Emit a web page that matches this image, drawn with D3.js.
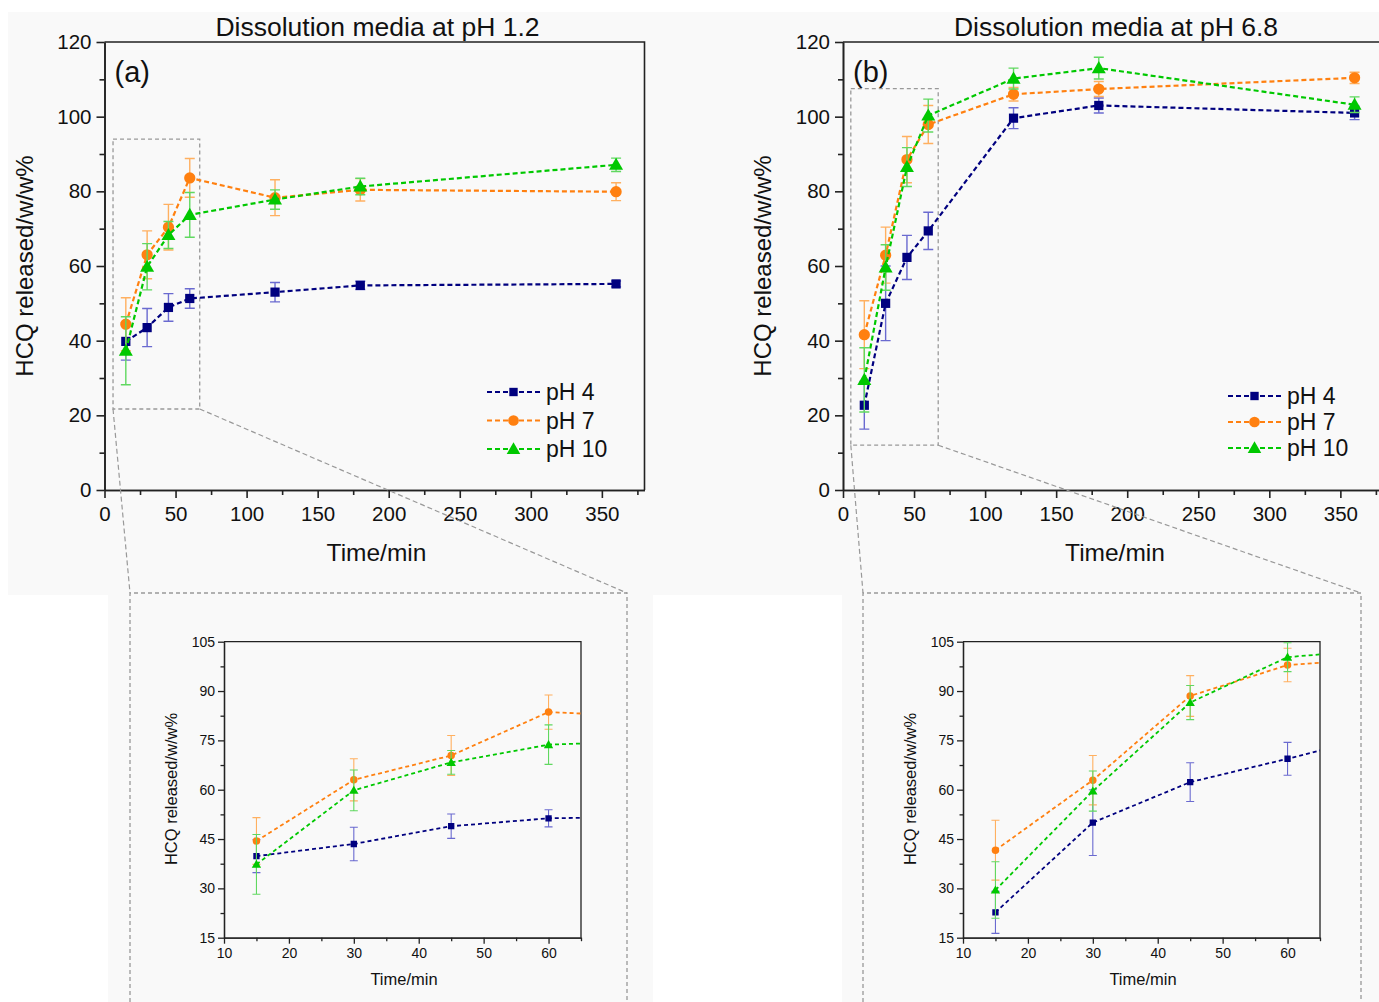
<!DOCTYPE html>
<html lang="en">
<head>
<meta charset="UTF-8">
<title>HCQ release</title>
<script src="https://d3js.org/d3.v7.min.js"></script>
<style>
  body { margin: 0; background: #fff; }
  svg { display: block; }
  text { font-family: "Liberation Sans", Arial, sans-serif; fill: #111; }
</style>
</head>
<body>
<svg id="chart" width="1379" height="1002"></svg>
<script>
// sampling times (min)
const times = [15, 30, 45, 60, 120, 180, 360];
const seriesNames = ["pH 4", "pH 7", "pH 10"];

// dissolution media pH 1.2
const a_pH4 = [39.8, 43.5, 48.9, 51.3, 53.0, 54.8, 55.2];
const a_pH4_err = [5.0, 5.1, 3.7, 2.6, 2.6, 1.1, 0.8];
const a_pH7 = [44.4, 63.0, 70.4, 83.6, 78.3, 80.4, 79.9];
const a_pH7_err = [7.1, 6.4, 6.1, 5.2, 4.8, 3.0, 2.4];
const a_pH10 = [37.3, 59.8, 68.3, 73.7, 77.8, 81.3, 87.1];
const a_pH10_err = [9.1, 6.2, 3.6, 6.0, 2.6, 2.2, 1.8];

// dissolution media pH 6.8
const b_pH4 = [22.7, 50.0, 62.3, 69.4, 99.6, 103.0, 101.0];
const b_pH4_err = [6.4, 10.0, 5.9, 5.0, 2.8, 2.0, 1.8];
const b_pH7 = [41.6, 62.9, 88.5, 97.9, 106.0, 107.4, 110.4];
const b_pH7_err = [9.1, 7.5, 6.2, 5.1, 1.8, 2.0, 1.5];
const b_pH10 = [29.5, 59.6, 86.5, 100.3, 110.2, 113.0, 103.2];
const b_pH10_err = [8.6, 6.1, 5.2, 4.4, 2.8, 2.9, 2.1];

// axis ticks
const mainXTicks = [0, 50, 100, 150, 200, 250, 300, 350];
const mainXMinor = [25, 75, 125, 175, 225, 275, 325, 375];
const mainYTicks = [0, 20, 40, 60, 80, 100, 120];
const mainYMinor = [10, 30, 50, 70, 90, 110];
const insetXTicks = [10, 20, 30, 40, 50, 60];
const insetXMinor = [15, 25, 35, 45, 55, 65];
const insetYTicks = [15, 30, 45, 60, 75, 90, 105];
const insetYMinor = [22.5, 37.5, 52.5, 67.5, 82.5, 97.5];

const colors = ["#00007f", "#ff8010", "#00c800"];
const errColors = ["#6a6ad0", "#ffb060", "#60d860"];
const symbols = [d3.symbolSquare, d3.symbolCircle, d3.symbolTriangle];

const svg = d3.select("#chart");
const defs = svg.append("defs");

// light grey page backgrounds
svg.append("rect").attr("x", 8).attr("y", 12).attr("width", 1371).attr("height", 583).attr("fill", "#f9f9f9");
svg.append("rect").attr("x", 108).attr("y", 595).attr("width", 545).attr("height", 407).attr("fill", "#f9f9f9");
svg.append("rect").attr("x", 842).attr("y", 595).attr("width", 537).attr("height", 407).attr("fill", "#f9f9f9");

function build(values, errs) {
  return times.map((t, i) => ({ t: t, v: values[i], e: errs[i] }));
}

const panelA = [build(a_pH4, a_pH4_err), build(a_pH7, a_pH7_err), build(a_pH10, a_pH10_err)];
const panelB = [build(b_pH4, b_pH4_err), build(b_pH7, b_pH7_err), build(b_pH10, b_pH10_err)];

function axes(g, x, y, o) {
  const [x0, x1] = x.range();
  const [y0, y1] = y.range();
  g.append("g").attr("transform", `translate(0,${y0})`)
    .call(d3.axisBottom(x).tickValues(o.xMinor).tickSize(o.minor).tickFormat("").tickSizeOuter(0));
  g.append("g").attr("transform", `translate(0,${y0})`)
    .call(d3.axisBottom(x).tickValues(o.xTicks).tickSize(o.major).tickPadding(o.xpad).tickSizeOuter(0))
    .selectAll("text").attr("font-size", o.font);
  g.append("g").attr("transform", `translate(${x0},0)`)
    .call(d3.axisLeft(y).tickValues(o.yMinor).tickSize(o.minor).tickFormat("").tickSizeOuter(0));
  g.append("g").attr("transform", `translate(${x0},0)`)
    .call(d3.axisLeft(y).tickValues(o.yTicks).tickSize(o.major).tickPadding(o.pad).tickSizeOuter(0))
    .selectAll("text").attr("font-size", o.font);
  g.selectAll(".domain").attr("stroke", "#222").attr("stroke-width", o.sw);
  g.selectAll(".tick line").attr("stroke", "#222").attr("stroke-width", o.sw);
  g.selectAll(".tick text").attr("fill", "#111").attr("font-family", "Liberation Sans, Arial, sans-serif");
  // top and right frame
  g.append("path")
    .attr("d", `M${x0},${y1}H${x1}V${y0}`)
    .attr("fill", "none").attr("stroke", "#222").attr("stroke-width", o.sw);
}

function series(g, x, y, data, o) {
  const line = d3.line().x(d => x(d.t)).y(d => y(d.v));
  data.forEach((s, k) => {
    const eg = g.append("g");
    s.forEach(d => {
      const cx = x(d.t), ya = y(d.v + d.e), yb = y(d.v - d.e);
      eg.append("path")
        .attr("d", `M${cx},${ya}V${yb}M${cx - o.cap},${ya}H${cx + o.cap}M${cx - o.cap},${yb}H${cx + o.cap}`)
        .attr("stroke", errColors[k]).attr("stroke-width", o.ew).attr("fill", "none");
    });
    g.append("path").datum(s).attr("d", line)
      .attr("fill", "none").attr("stroke", colors[k])
      .attr("stroke-width", o.lw).attr("stroke-dasharray", o.dash);
    g.selectAll(null).data(s).enter().append("path")
      .attr("transform", d => `translate(${x(d.t)},${y(d.v) + (k === 2 ? o.triShift : 0)})`)
      .attr("d", d3.symbol().type(symbols[k]).size(o.sizes[k]))
      .attr("fill", colors[k]);
  });
}

function mainPanel(p) {
  const x = d3.scaleLinear().domain([0, 380]).range([p.left, p.left + 540]);
  const y = d3.scaleLinear().domain([0, 120]).range([490, 42]);
  const g = svg.append("g");
  axes(g, x, y, { xTicks: mainXTicks, xMinor: mainXMinor, yTicks: mainYTicks, yMinor: mainYMinor,
    major: 8, minor: 5, pad: 5, xpad: 8, font: 20.5, sw: 1.6 });

  // zoom window
  g.append("rect")
    .attr("x", x(p.zoom[0])).attr("y", y(p.zoom[3]))
    .attr("width", x(p.zoom[1]) - x(p.zoom[0])).attr("height", y(p.zoom[2]) - y(p.zoom[3]))
    .attr("fill", "none").attr("stroke", "#999").attr("stroke-width", 1.3).attr("stroke-dasharray", "4,3");

  series(g, x, y, p.data, { cap: 5, ew: 1.4, lw: 2.2, dash: "5,3", sizes: [85, 100, 85], triShift: 1 });

  g.append("text").attr("x", (p.left + p.left + 540) / 2 + 3).attr("y", 36)
    .attr("text-anchor", "middle").attr("font-size", 26.5).text(p.title);
  g.append("text").attr("x", p.left + 10).attr("y", 82).attr("font-size", 29).text(p.tag);
  g.append("text").attr("transform", `translate(${p.left - 72},${266}) rotate(-90)`)
    .attr("text-anchor", "middle").attr("font-size", 24).text("HCQ released/w/w%");
  g.append("text").attr("x", p.left + 272).attr("y", 561)
    .attr("text-anchor", "middle").attr("font-size", 24.5).text("Time/min");

  // legend
  seriesNames.forEach((name, k) => {
    const ly = p.legY + k * p.legDy;
    g.append("line").attr("x1", p.legX).attr("x2", p.legX + 53).attr("y1", ly).attr("y2", ly)
      .attr("stroke", colors[k]).attr("stroke-width", 2.2).attr("stroke-dasharray", "5,3");
    g.append("path").attr("transform", `translate(${p.legX + 26.5},${ly + (k === 2 ? 1 : 0)})`)
      .attr("d", d3.symbol().type(symbols[k]).size([70, 90, 80][k])).attr("fill", colors[k]);
    g.append("text").attr("x", p.legX + 59).attr("y", ly + 8).attr("font-size", 23).text(name);
  });

  return { x, y };
}

function inset(p, m) {
  const x = d3.scaleLinear().domain([10, 65]).range([p.left, p.left + 357]);
  const y = d3.scaleLinear().domain([15, 105]).range([937.7, 641.7]);
  const g = svg.append("g");

  // dashed frame of the enlarged view and connectors
  const zx0 = m.x(p.zoom[0]), zx1 = m.x(p.zoom[1]), zy = m.y(p.zoom[2]);
  g.append("path")
    .attr("d", `M${p.box[0]},1002V${p.box[2]}H${p.box[1]}V1002`)
    .attr("fill", "none").attr("stroke", "#999").attr("stroke-width", 1.3).attr("stroke-dasharray", "4,3");
  g.append("path")
    .attr("d", `M${zx0},${zy}L${p.box[0]},${p.box[2]}M${zx1},${zy}L${p.box[1]},${p.box[2]}`)
    .attr("fill", "none").attr("stroke", "#999").attr("stroke-width", 1.2).attr("stroke-dasharray", "5,3");

  axes(g, x, y, { xTicks: insetXTicks, xMinor: insetXMinor, yTicks: insetYTicks, yMinor: insetYMinor,
    major: 6, minor: 3.5, pad: 3, xpad: 4, font: 14, sw: 1.3 });

  const id = "clip" + p.tag;
  defs.append("clipPath").attr("id", id).append("rect")
    .attr("x", x(10)).attr("y", y(105)).attr("width", x(65) - x(10)).attr("height", y(15) - y(105));
  const pg = g.append("g").attr("clip-path", `url(#${id})`);
  series(pg, x, y, p.data, { cap: 4, ew: 1.1, lw: 1.8, dash: "4,3", sizes: [40, 44, 38], triShift: 0.8 });

  g.append("text").attr("transform", `translate(${p.left - 47},${789}) rotate(-90)`)
    .attr("text-anchor", "middle").attr("font-size", 16.5).text("HCQ released/w/w%");
  g.append("text").attr("x", p.left + 180).attr("y", 985)
    .attr("text-anchor", "middle").attr("font-size", 16.5).text("Time/min");
}

const mA = mainPanel({ left: 104.5, title: "Dissolution media at pH 1.2", tag: "(a)", data: panelA,
  zoom: [6, 67, 21.7, 94], legX: 487, legY: 392, legDy: 28.5 });
const mB = mainPanel({ left: 843, title: "Dissolution media at pH 6.8", tag: "(b)", data: panelB,
  zoom: [5.5, 67, 12, 107.5], legX: 1228, legY: 396, legDy: 26 });

inset({ left: 224, tag: "a", data: panelA, zoom: [6, 67, 21.7], box: [130, 627, 593] }, mA);
inset({ left: 963, tag: "b", data: panelB, zoom: [5.5, 67, 12], box: [863, 1361, 593] }, mB);
</script>
</body>
</html>
